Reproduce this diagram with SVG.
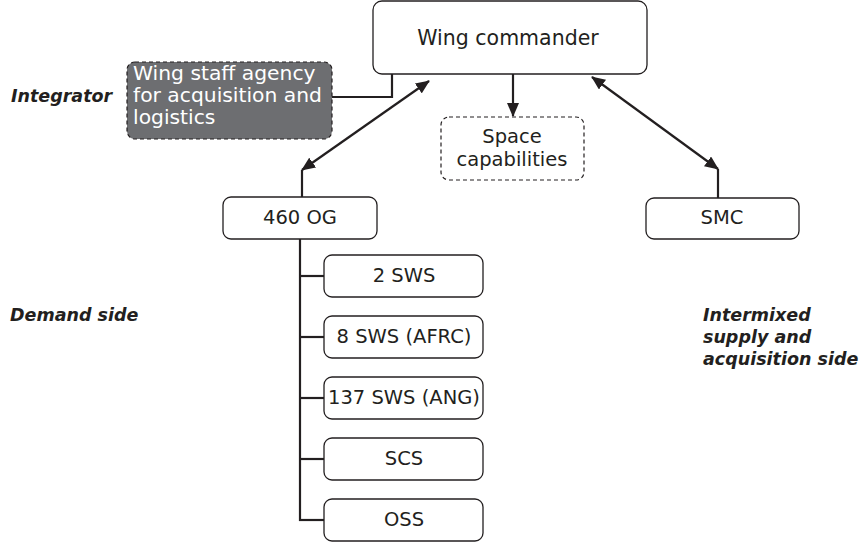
<svg xmlns="http://www.w3.org/2000/svg" width="863" height="542" viewBox="0 0 863 542">
<defs>
<marker id="ah" viewBox="0 0 14 12" refX="13" refY="6" markerWidth="14" markerHeight="12" markerUnits="userSpaceOnUse" orient="auto-start-reverse">
<path d="M0,0 L14,6 L0,12 Z" fill="#231f20"/>
</marker>
</defs>
<style>
.box{fill:#fff;stroke:#231f20;stroke-width:1.3}
.dash{fill:#fff;stroke:#231f20;stroke-width:1.2;stroke-dasharray:4 3}
.dark{fill:#6d6e71;stroke:#231f20;stroke-width:1.2;stroke-dasharray:4 3}
.t{font-family:"DejaVu Sans","Noto Sans",sans-serif;font-size:19.5px;fill:#231f20;text-anchor:middle}
.big{font-size:20.5px}
.tw{font-family:"DejaVu Sans","Noto Sans",sans-serif;font-size:20.3px;fill:#fff}
.lab{font-family:"DejaVu Sans","Noto Sans",sans-serif;font-size:17.5px;font-weight:bold;font-style:italic;fill:#231f20}
.c{fill:none;stroke:#231f20;stroke-width:2.2}
</style>
<g id="connectors">
<polyline class="c" points="332,97 392,97 392,74"/>
<line class="c" x1="302" y1="170" x2="429" y2="81" marker-start="url(#ah)" marker-end="url(#ah)"/>
<line class="c" x1="302" y1="170" x2="302" y2="197"/>
<line class="c" x1="513" y1="74" x2="513" y2="116" marker-end="url(#ah)"/>
<line class="c" x1="592" y1="77" x2="718" y2="169" marker-start="url(#ah)" marker-end="url(#ah)"/>
<line class="c" x1="718" y1="169" x2="718" y2="198"/>
<line class="c" x1="300" y1="239" x2="300" y2="521"/>
<line class="c" x1="299" y1="276" x2="324" y2="276"/>
<line class="c" x1="299" y1="337" x2="324" y2="337"/>
<line class="c" x1="299" y1="398" x2="324" y2="398"/>
<line class="c" x1="299" y1="459" x2="324" y2="459"/>
<line class="c" x1="299" y1="520" x2="324" y2="520"/>
</g>
<g id="wing-commander">
<rect class="box" x="373" y="1" width="274" height="73" rx="9"/>
<text class="t big" x="508" y="45">Wing commander</text>
</g>
<g id="staff-agency">
<rect class="dark" x="127" y="62" width="205" height="77" rx="8"/>
<text class="tw" x="133" y="80">Wing staff agency</text>
<text class="tw" x="133" y="102">for acquisition and</text>
<text class="tw" x="133" y="124">logistics</text>
</g>
<g id="space-capabilities">
<rect class="dash" x="441" y="117" width="143" height="63" rx="8"/>
<text class="t" x="512" y="143">Space</text>
<text class="t" x="512" y="166">capabilities</text>
</g>
<g id="og460">
<rect class="box" x="223" y="197" width="154" height="42" rx="8"/>
<text class="t" x="300" y="224">460 OG</text>
</g>
<g id="smc">
<rect class="box" x="646" y="198" width="153" height="41" rx="8"/>
<text class="t" x="722" y="224">SMC</text>
</g>
<g id="sws2">
<rect class="box" x="324" y="255" width="159" height="42" rx="8"/>
<text class="t" x="404" y="282">2 SWS</text>
</g>
<g id="sws8">
<rect class="box" x="324" y="316" width="159" height="42" rx="8"/>
<text class="t" x="404" y="343">8 SWS (AFRC)</text>
</g>
<g id="sws137">
<rect class="box" x="324" y="377" width="159" height="42" rx="8"/>
<text class="t" x="404" y="404">137 SWS (ANG)</text>
</g>
<g id="scs">
<rect class="box" x="324" y="438" width="159" height="42" rx="8"/>
<text class="t" x="404" y="465">SCS</text>
</g>
<g id="oss">
<rect class="box" x="324" y="499" width="159" height="42" rx="8"/>
<text class="t" x="404" y="526">OSS</text>
</g>
<g id="labels">
<text class="lab" x="11" y="102">Integrator</text>
<text class="lab" x="10" y="321">Demand side</text>
<text class="lab" x="703" y="321">Intermixed</text>
<text class="lab" x="703" y="343">supply and</text>
<text class="lab" x="703" y="365">acquisition side</text>
</g>
</svg>
